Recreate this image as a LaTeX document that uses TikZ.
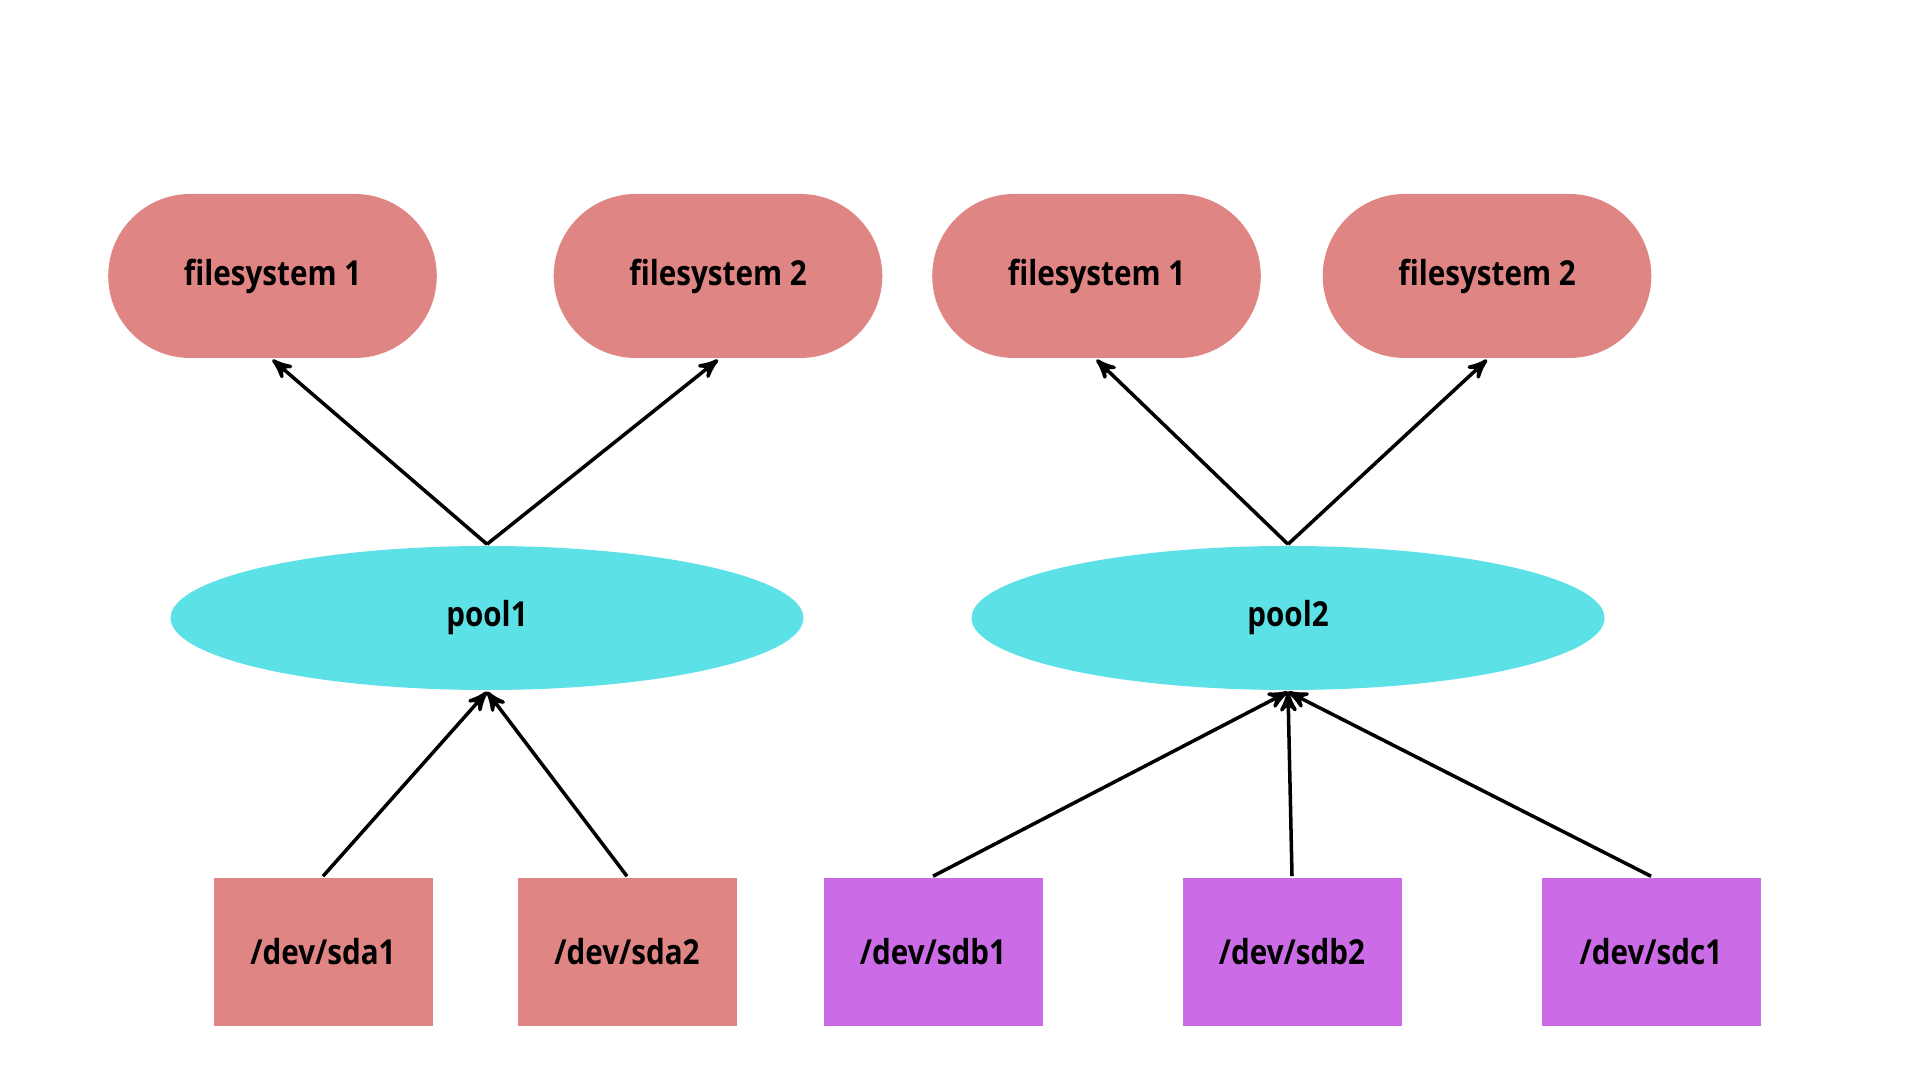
\documentclass[tikz,border=0pt]{standalone}
\usepackage{fontspec}
\setmainfont{Open Sans}[FakeStretch=0.86]
\usepackage{xcolor}
\usepackage{tikz}
\usetikzlibrary{shapes}
\usetikzlibrary{arrows}
\definecolor{fspink}{HTML}{DF8583}
\definecolor{poolcyan}{HTML}{5CE1E6}
\definecolor{devpurple}{HTML}{CB6CE6}
\tikzset{
	fs node/.style={rounded rectangle,fill=fspink,minimum width=3.52cm,minimum height=1.64cm,font=\fontsize{9.8}{11}\selectfont\bfseries},
	pool node/.style={ellipse,fill=poolcyan,minimum width=6.33cm,minimum height=1.44cm,font=\fontsize{9.8}{11}\selectfont\bfseries},
	dev node/.style={rectangle,fill=#1,minimum width=2.19cm,minimum height=1.48cm,font=\fontsize{9.8}{11}\selectfont\bfseries},
	dev node/.default=fspink
}
\begin{document}
\begin{tikzpicture}[->,>=stealth',line width=1pt]
		\useasboundingbox (0,0) rectangle (19.2,10.8);
		\node [fs node] (fs1a) at (2.725,8.04) {filesystem 1};
		\node [fs node] (fs2a) at (7.18,8.04) {filesystem 2};
		\node [fs node] (fs1b) at (10.965,8.04) {filesystem 1};
		\node [fs node] (fs2b) at (14.87,8.04) {filesystem 2};
		\node [pool node] (pool1) at (4.87,4.62) {pool1};
		\node [pool node] (pool2) at (12.88,4.62) {pool2};
		\node [dev node] (sda1) at (3.23,1.28) {/dev/sda1};
		\node [dev node] (sda2) at (6.27,1.28) {/dev/sda2};
		\node [dev node=devpurple] (sdb1) at (9.33,1.28) {/dev/sdb1};
		\node [dev node=devpurple] (sdb2) at (12.92,1.28) {/dev/sdb2};
		\node [dev node=devpurple] (sdc1) at (16.51,1.28) {/dev/sdc1};
		\draw (pool1.north) -- (fs1a.south);
		\draw (pool1.north) -- (fs2a.south);
		\draw (pool2.north) -- (fs1b.south);
		\draw (pool2.north) -- (fs2b.south);
		\foreach \d in {sda1,sda2}
			\draw (\d.north) -- (pool1.south);
		\foreach \d in {sdb1,sdb2,sdc1}
			\draw (\d.north) -- (pool2.south);
\end{tikzpicture}
\end{document}
